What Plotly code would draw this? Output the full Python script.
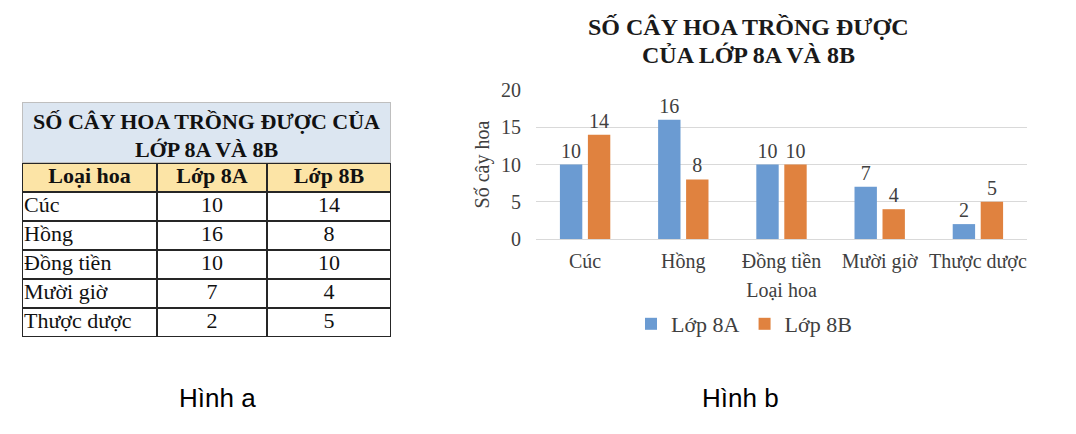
import plotly.graph_objects as go

#------------------------------------------------------------
#                          DATA
#------------------------------------------------------------

loai_hoa = ['Cúc', 'Hồng', 'Đồng tiền', 'Mười giờ', 'Thược dược']
lop_8a = [10, 16, 10, 7, 2]
lop_8b = [14, 8, 10, 4, 5]

ten_lop = ['Lớp 8A', 'Lớp 8B']
cot_bang = ['Loại hoa', 'Lớp 8A', 'Lớp 8B']
tieu_de_bang = 'SỐ CÂY HOA TRỒNG ĐƯỢC CỦA<br>LỚP 8A VÀ 8B'
tieu_de_bieu_do = ['SỐ CÂY HOA TRỒNG ĐƯỢC', 'CỦA LỚP 8A VÀ 8B']
y_ticks = [0, 5, 10, 15, 20]

#------------------------------------------------------------
#                          LAYOUT HELPERS
#------------------------------------------------------------

W, H = 1076, 434
SERIF = 'Liberation Serif, Times New Roman, serif'
SANS = 'Liberation Sans, Arial, sans-serif'
BLUE = '#6B9BD2'
ORANGE = '#E0823F'
TXT = '#404040'

def px_x(x):
    return x / W

def px_y(y):
    return 1 - y / H

# table geometry (pixels inside the table box)
col_edges = [0, 135, 245, 369]
row_edges = [0, 61, 90, 119, 148, 177, 206, 235]
col_mid = [(a + b) / 2 for a, b in zip(col_edges[:-1], col_edges[1:])]
row_mid = [(a + b) / 2 for a, b in zip(row_edges[:-1], row_edges[1:])]

#------------------------------------------------------------
#                          FIGURE
#------------------------------------------------------------

fig = go.Figure()

# ---- Hinh a : the table, drawn on its own axes (x2 / y2)
# border colour underneath, cells on top with gaps
fig.add_trace(go.Heatmap(x=[0, 369], y=[0, 61, 235], z=[[0], [1]],
                         colorscale=[[0, '#BFBFBF'], [1, '#262626']],
                         showscale=False, hoverinfo='skip', xaxis='x2', yaxis='y2'))
fig.add_trace(go.Heatmap(x=[0, 369], y=[0, 61], z=[[0]],
                         colorscale=[[0, '#DCE6F1'], [1, '#DCE6F1']],
                         showscale=False, hoverinfo='skip', xgap=2, ygap=2,
                         xaxis='x2', yaxis='y2'))
fig.add_trace(go.Heatmap(x=col_edges, y=row_edges[1:],
                         z=[[1, 1, 1]] + [[0, 0, 0]] * len(loai_hoa),
                         colorscale=[[0, 'white'], [1, '#FCE4A6']],
                         showscale=False, hoverinfo='skip', xgap=2, ygap=2,
                         xaxis='x2', yaxis='y2'))

tfont = dict(family=SERIF, size=22, color='#111111')
fig.add_trace(go.Scatter(x=[col_edges[-1] / 2], y=[row_mid[0] + 5], mode='text',
                         text=['<b>' + tieu_de_bang + '</b>'], textfont=tfont,
                         hoverinfo='skip', showlegend=False, xaxis='x2', yaxis='y2'))
fig.add_trace(go.Scatter(x=col_mid, y=[row_mid[1]] * 3, mode='text',
                         text=['<b>' + c + '</b>' for c in cot_bang], textfont=tfont,
                         hoverinfo='skip', showlegend=False, xaxis='x2', yaxis='y2'))
fig.add_trace(go.Scatter(x=[2] * len(loai_hoa), y=row_mid[2:], mode='text',
                         text=loai_hoa, textposition='middle right', textfont=tfont,
                         hoverinfo='skip', showlegend=False, xaxis='x2', yaxis='y2'))
fig.add_trace(go.Scatter(x=[col_mid[1]] * len(lop_8a) + [col_mid[2]] * len(lop_8b),
                         y=row_mid[2:] + row_mid[2:], mode='text',
                         text=lop_8a + lop_8b, textfont=tfont,
                         hoverinfo='skip', showlegend=False, xaxis='x2', yaxis='y2'))

# ---- Hinh b : grouped bar chart
for name, vals, col in [(ten_lop[0], lop_8a, BLUE), (ten_lop[1], lop_8b, ORANGE)]:
    fig.add_trace(go.Bar(
        x=loai_hoa, y=vals, name=name,
        marker=dict(color=col, line=dict(width=0)),
        text=vals, textposition='outside', cliponaxis=False,
        textfont=dict(family=SERIF, size=20, color=TXT),
    ))

fig.update_layout(
    width=W, height=H,
    margin=dict(l=0, r=0, t=0, b=0, autoexpand=False),
    paper_bgcolor='white', plot_bgcolor='white',
    barmode='group', bargap=0.43, bargroupgap=0.2,
    font=dict(family=SERIF, size=20, color=TXT),
    xaxis=dict(domain=[px_x(536), px_x(1027)], showgrid=False, showline=False,
               ticks='', ticklabelstandoff=8, tickfont=dict(size=20, color=TXT),
               automargin=False,
               title=dict(text='Loại hoa', standoff=10, font=dict(size=20, color=TXT))),
    yaxis=dict(domain=[px_y(239), px_y(90)], range=[0, 20], tickvals=y_ticks,
               showgrid=True, gridcolor='#D9D9D9', gridwidth=1,
               zeroline=True, zerolinecolor='#D9D9D9', zerolinewidth=1,
               showline=False, ticks='', ticklabelstandoff=14, automargin=False,
               tickfont=dict(size=20, color=TXT),
               title=dict(text='Số cây hoa', standoff=6, font=dict(size=20, color=TXT))),
    xaxis2=dict(domain=[px_x(22), px_x(391)], range=[0, 369], anchor='y2',
                visible=False, fixedrange=True, automargin=False),
    yaxis2=dict(domain=[px_y(337), px_y(102)], range=[235, 0], anchor='x2',
                visible=False, fixedrange=True, automargin=False),
    legend=dict(orientation='h', x=px_x(744), xanchor='center', y=px_y(324), yanchor='middle',
                font=dict(size=22, color=TXT), itemwidth=30, traceorder='normal'),
    showlegend=True,
)

for i, line in enumerate(tieu_de_bieu_do):
    fig.add_annotation(text='<b>' + line + '</b>', xref='paper', yref='paper',
                       x=px_x(748), y=px_y(27 + 28 * i), xanchor='center', yanchor='middle',
                       showarrow=False, font=dict(family=SERIF, size=24, color='#1a1a1a'))

fig.add_annotation(text='Hình a', xref='paper', yref='paper', x=px_x(218), y=px_y(398),
                   xanchor='center', yanchor='middle', showarrow=False,
                   font=dict(family=SANS, size=26, color='black'))
fig.add_annotation(text='Hình b', xref='paper', yref='paper', x=px_x(740), y=px_y(398),
                   xanchor='center', yanchor='middle', showarrow=False,
                   font=dict(family=SANS, size=26, color='black'))

fig.write_html("out.html", config={'displayModeBar': False},
               post_script="document.body.style.margin='0';")
